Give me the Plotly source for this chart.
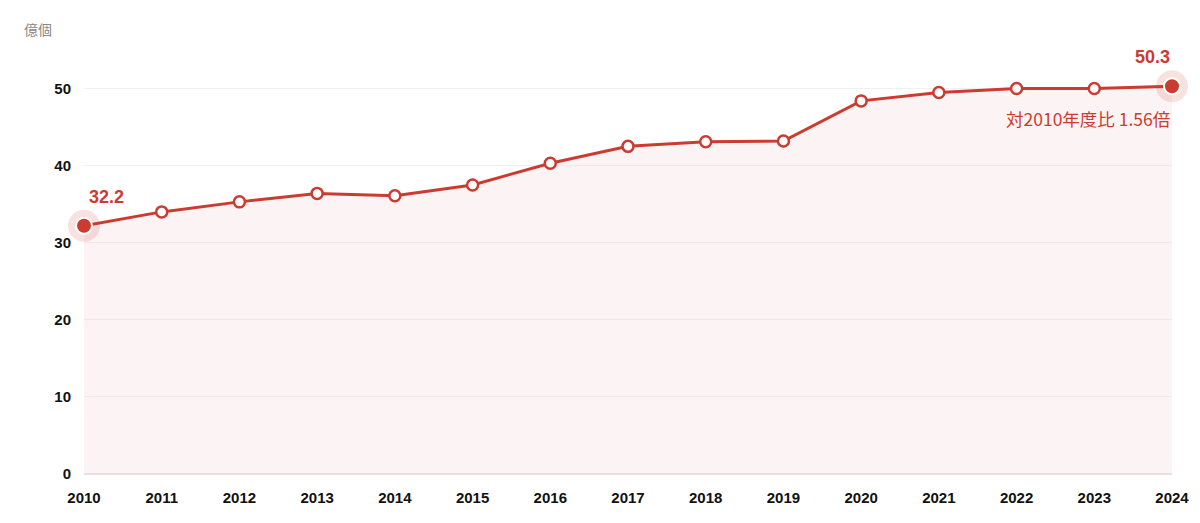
import plotly.graph_objects as go

years = [2010, 2011, 2012, 2013, 2014, 2015, 2016, 2017, 2018, 2019, 2020, 2021, 2022, 2023, 2024]
values = [32.2, 34.0, 35.3, 36.4, 36.1, 37.5, 40.3, 42.5, 43.1, 43.2, 48.4, 49.5, 50.0, 50.0, 50.3]
y_ticks = [0, 10, 20, 30, 40, 50]
unit_label = "億個"
ratio_label = "対2010年度比 1.56倍"

RED = "#cc3b30"
FONT = "Liberation Sans, Arial, sans-serif"
JP = "Noto Sans CJK JP, sans-serif"

fig = go.Figure()

# area + line
fig.add_trace(go.Scatter(
    x=years, y=values, mode="lines+markers",
    line=dict(color=RED, width=3),
    fill="tozeroy", fillcolor="rgba(240,200,205,0.22)",
    marker=dict(size=11, color="white", line=dict(color=RED, width=2.5)),
    hoverinfo="skip", showlegend=False,
))

ends_x = [years[0], years[-1]]
ends_y = [values[0], values[-1]]
# halo
fig.add_trace(go.Scatter(
    x=ends_x, y=ends_y, mode="markers",
    marker=dict(size=32, color="rgba(204,59,48,0.15)", line=dict(width=0)),
    hoverinfo="skip", showlegend=False, cliponaxis=False,
))
fig.add_trace(go.Scatter(
    x=ends_x, y=ends_y, mode="markers",
    marker=dict(size=16, color=RED, line=dict(color="white", width=2)),
    hoverinfo="skip", showlegend=False, cliponaxis=False,
))

fig.add_annotation(x=years[0], y=values[0], text=f"{values[0]:.1f}", showarrow=False,
                   xanchor="left", yanchor="bottom", xshift=3, yshift=17,
                   font=dict(family=FONT, size=18, color=RED, weight="bold"))
fig.add_annotation(x=years[-1], y=values[-1], text=f"{values[-1]:.1f}", showarrow=False,
                   xanchor="right", yanchor="bottom", xshift=0, yshift=17,
                   font=dict(family=FONT, size=18, color=RED, weight="bold"))
fig.add_annotation(x=years[-1], y=values[-1], text=ratio_label, showarrow=False,
                   xanchor="right", yanchor="top", xshift=0, yshift=-18,
                   font=dict(family=JP, size=17.5, color=RED))
fig.add_annotation(x=0, y=1, xref="paper", yref="paper", text=unit_label, showarrow=False,
                   xanchor="left", yanchor="middle", xshift=-62, yshift=21,
                   font=dict(family=JP, size=14, color="#888888"))

fig.update_layout(
    width=1200, height=523,
    margin=dict(l=84, r=28, t=50, b=49),
    paper_bgcolor="white", plot_bgcolor="white",
    xaxis=dict(range=[years[0], years[-1]], tickvals=years, ticktext=[str(y) for y in years],
               showgrid=False, zeroline=False, showline=False, ticks="",
               ticklabelstandoff=13,
               tickfont=dict(family=FONT, size=15, color="#111111", weight="bold"),
               fixedrange=True),
    yaxis=dict(range=[0, 55], tickvals=y_ticks, showgrid=True, gridcolor="#f0f0f0", gridwidth=1,
               zeroline=True, zerolinecolor="#e4e4e4", zerolinewidth=2, showline=False, ticks="",
               ticklabelstandoff=12,
               tickfont=dict(family=FONT, size=15, color="#111111", weight="bold"),
               fixedrange=True),
)

fig.write_html("out.html")
